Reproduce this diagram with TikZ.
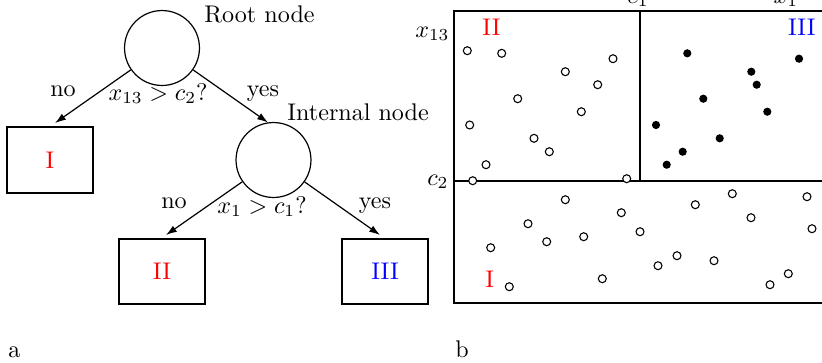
\documentclass[tikz,border=0pt]{standalone}
\usetikzlibrary{arrows.meta}
\begin{document}
\begin{tikzpicture}[x=0.415pt,y=-0.415pt,
  dec/.style={circle,draw,line width=0.5pt,minimum size=31.1pt,inner sep=0pt},
  leaf/.style={rectangle,draw,line width=0.8pt,minimum width=35.7pt,minimum height=27.2pt,inner sep=0pt},
  edge/.style={line width=0.5pt,-{Latex[length=4.5pt,width=3pt]}},
  lbl/.style={inner sep=0pt,anchor=base},
  odot/.style={draw,line width=0.45pt,fill=white},
  fdot/.style={fill=black},
  region/.style={line width=0.8pt}]
\useasboundingbox (0,0) rectangle (822,362);
\clip (0,0) rectangle (822,362);
% ---- tree ----
\node[dec] (root) at (162,48) {};
\node[dec] (int) at (273.5,160) {};
\node[leaf] (b1) at (50,160) {\textcolor{red}{I}};
\node[leaf] (b2) at (162,271.5) {\textcolor{red}{II}};
\node[leaf] (b3) at (385,271.5) {\textcolor{blue}{III}};
\node[lbl,anchor=base west] (rootlbl) at (204,22) {Root node};
\node[lbl,anchor=base west] (intlbl) at (287,120) {Internal node};
\coordinate (t1) at (55,123);
\coordinate (t2) at (268,122.5);
\coordinate (t3) at (166,235);
\coordinate (t4) at (380,235);
\draw[edge] (root) -- (t1);
\draw[edge] (root) -- (t2);
\draw[edge] (int) -- (t3);
\draw[edge] (int) -- (t4);
\node[lbl] (no1) at (63,96) {no};
\node[lbl] (yes1) at (263,96) {yes};
\node[lbl] (q1) at (158,100) {$x_{13}>c_2?$};
\node[lbl] (no2) at (174,208) {no};
\node[lbl] (yes2) at (375,208) {yes};
\node[lbl] (q2) at (262,213) {$x_1>c_1?$};
\node[lbl,anchor=base west] (la) at (8,357) {a};
\node[lbl,anchor=base west] (lb) at (455,357) {b};
% ---- partition ----
\draw[region] (840,11) -- (454,11) -- (454,303) -- (840,303);
\draw[region] (454,181) -- (840,181);
\draw[region] (640,11) -- (640,181);
\node[lbl,anchor=base east] (ax13) at (450,37) {$x_{13}$};
\node[lbl,anchor=base east] (ac2) at (449,185) {$c_2$};
\node[lbl] (ac1) at (638,3) {$c_1$};
\node[lbl] (ax1) at (786,3) {$x_1$};
\node[lbl,anchor=base west] (r2) at (482,35) {\textcolor{red}{II}};
\node[lbl,anchor=base east] (r3) at (816,35) {\textcolor{blue}{III}};
\node[lbl,anchor=base west] (r1) at (485,287) {\textcolor{red}{I}};
\foreach \p in {(467.3,50.7),(501.7,53.3),(613,58.7),(565.3,71.7),(597.7,84.7),(517.7,98.7),(581.3,111.7),(469.7,125),(534,138.3),(549.3,151.7),(486,164.7),(472.7,180.7),(626.7,178.7),
(565.3,199.7),(732.3,193.7),(807,196.7),(695.3,204.7),(621.3,212.7),(751,217.7),(528,223.7),(812,228.7),(640,231.7),(583.7,236.7),(546.7,241.7),(490.7,247.7),(677,255.7),(658,265.7),(714,260.7),(788.3,273.7),(602.3,278.7),(770,284.7),(509.3,286.7)}
  \draw[odot] \p circle[radius=1.65pt];
\foreach \p in {(687.3,53.3),(799,58.7),(751.3,71.7),(756.7,84.7),(703.3,98.7),(767.3,111.7),(656,125),(719.7,138.3),(682.7,151.7),(666.7,164.7)}
  \fill[fdot] \p circle[radius=1.7pt];
\end{tikzpicture}
\end{document}
